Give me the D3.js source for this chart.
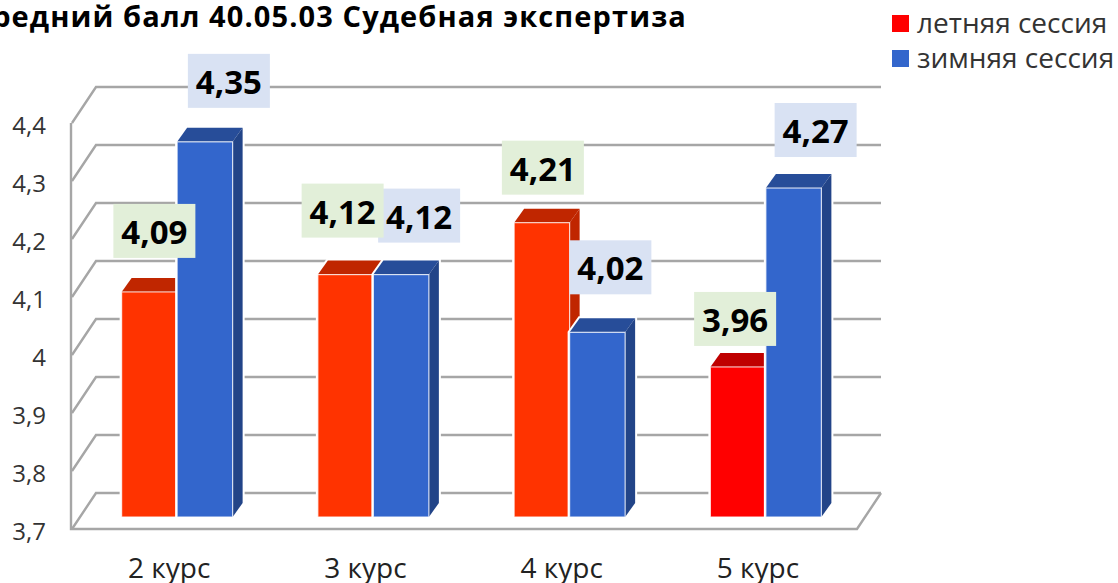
<!DOCTYPE html>
<html>
<head>
<meta charset="utf-8">
<script src="https://cdn.jsdelivr.net/npm/d3@7"></script>
<style>
  html, body { margin: 0; padding: 0; background: #fff; overflow: hidden; }
  text { font-family: "Open Sans", sans-serif; }
</style>
</head>
<body>
<div id="container"></div>
<script>
      //Data
      var courses = ["2 курс", "3 курс", "4 курс", "5 курс"];
      var sessions = ["летняя сессия", "зимняя сессия"];
      var summer = [4.09, 4.12, 4.21, 3.96];
      var winter = [4.35, 4.12, 4.02, 4.27];
      var yTicks = [3.7, 3.8, 3.9, 4, 4.1, 4.2, 4.3, 4.4];

      //Label box centre, moved from the top middle of its bar
      var summerLabelShift = [[5, -61], [-3, -64], [1, -55], [-3, -48]];
      var winterLabelShift = [[24, -61], [18, -59], [13, -65], [22, -58]];

      //Colours
      var summerFront = ["#ff3300", "#ff3300", "#ff3300", "#ff0000"];
      var summerTop = ["#c02600", "#c02600", "#c02600", "#bf0000"];
      var winterFront = "#3366cc", winterTop = "#274d99", winterSide = "#224488";
      var gridColor = "#a6a6a6";

      //Width and height
      var w = 1118;
      var h = 583;

      //3D offsets of the chart box and of the bars
      var wallX = 24, wallY = -36;
      var barDepthX = 10, barDepthY = -14;

      var svg = d3.select("#container")
            .append("svg")
            .attr("width", w)
            .attr("height", h)
            .style("display", "block");

      //Scales
      var yFront = d3.scaleLinear().domain([3.7, 4.4]).range([529, 123]);
      var yBar = d3.scaleLinear().domain([3.7, 4.4]).range([517, 113]);
      var xLabel = d3.scaleBand().domain(courses).range([72, 857]);
      var xBar = d3.scaleBand().domain(courses).range([79, 864]);
      var xSession = d3.scaleBand().domain(sessions).range([0, 111]);

      //Floor and walls
      var grid = svg.append("g")
            .attr("fill", "none")
            .attr("stroke", gridColor)
            .attr("stroke-width", 2.4);

      grid.selectAll(".rung")
        .data(yTicks)
        .enter()
        .append("path")
        .attr("class", "rung")
        .attr("d", function(d) {
          var y = yFront(d);
          return "M72," + y + "L" + (72 + wallX) + "," + (y + wallY) + "H" + (857 + wallX);
        });

      grid.append("path")
        .attr("d", "M71," + yFront(4.4) + "V" + yFront(3.7) + "H857L" + (857 + wallX) + "," + (yFront(3.7) + wallY));

      //One 3D bar
      function drawBar(g, x, value, front, top, side) {
        var w0 = xSession.bandwidth();
        var y0 = yBar(value);
        var y1 = yBar(3.7);
        g.append("path")
          .attr("d", "M" + x + "," + y1 + "V" + y0 + "l" + barDepthX + "," + barDepthY + "h" + w0 + "v" + (y1 - y0) + "l" + (-barDepthX) + "," + (-barDepthY) + "z")
          .attr("fill", "#fff")
          .attr("stroke", "#fff")
          .attr("stroke-width", 4);
        g.append("path")
          .attr("d", "M" + x + "," + y0 + "l" + barDepthX + "," + barDepthY + "h" + w0 + "l" + (-barDepthX) + "," + (-barDepthY) + "z")
          .attr("fill", top);
        g.append("path")
          .attr("d", "M" + (x + w0) + "," + y0 + "l" + barDepthX + "," + barDepthY + "v" + (y1 - y0) + "l" + (-barDepthX) + "," + (-barDepthY) + "z")
          .attr("fill", side);
        g.append("rect")
          .attr("x", x)
          .attr("y", y0)
          .attr("width", w0)
          .attr("height", y1 - y0)
          .attr("fill", front)
          .attr("stroke", "#fff")
          .attr("stroke-opacity", 0.75)
          .attr("stroke-width", 1.2);
      }

      var bars = svg.append("g");
      courses.forEach(function(c, i) {
        var x0 = xBar(c) + (xBar.bandwidth() - xSession.range()[1]) / 2;
        drawBar(bars, x0 + xSession(sessions[0]), summer[i], summerFront[i], summerTop[i], summerTop[i]);
        drawBar(bars, x0 + xSession(sessions[1]), winter[i], winterFront, winterTop, winterSide);
      });

      //Axes
      var yAxis = svg.append("g")
            .attr("transform", "translate(46,3)")
            .call(d3.axisLeft(yFront)
              .tickValues(yTicks)
              .tickSize(0)
              .tickPadding(0)
              .tickFormat(function(d) { return String(d).replace(".", ","); }));
      yAxis.select(".domain").remove();
      yAxis.selectAll("text")
        .style("font-family", "'Open Sans', sans-serif")
        .style("font-size", "24px")
        .attr("fill", "#333");

      var xAxis = svg.append("g")
            .attr("transform", "translate(-1,558)")
            .call(d3.axisBottom(xLabel).tickSize(0).tickPadding(0));
      xAxis.select(".domain").remove();
      xAxis.selectAll("text")
        .style("font-family", "'Open Sans', sans-serif")
        .style("font-size", "28px")
        .attr("fill", "#222");

      //Value labels
      function drawLabels(values, sessionName, shifts, fill) {
        var g = svg.append("g");
        values.forEach(function(v, i) {
          var x0 = xBar(courses[i]) + (xBar.bandwidth() - xSession.range()[1]) / 2;
          var cx = x0 + xSession(sessionName) + xSession.bandwidth() / 2 + shifts[i][0];
          var cy = yBar(v) + shifts[i][1];
          g.append("rect")
            .attr("x", cx - 41)
            .attr("y", cy - 27)
            .attr("width", 82)
            .attr("height", 54)
            .attr("fill", fill);
          g.append("text")
            .attr("x", cx)
            .attr("y", cy + 13)
            .attr("text-anchor", "middle")
            .attr("font-size", 33)
            .attr("font-weight", 700)
            .attr("fill", "#000")
            .text(String(v).replace(".", ","));
        });
      }
      drawLabels(winter, sessions[1], winterLabelShift, "#d9e2f3");
      drawLabels(summer, sessions[0], summerLabelShift, "#e2efd9");

      //Title, its first letter runs off the left edge
      svg.append("text")
        .attr("x", 687)
        .attr("y", 27)
        .attr("text-anchor", "end")
        .attr("font-size", 29)
        .attr("font-weight", 700)
        .attr("letter-spacing", 1.1)
        .attr("fill", "#000")
        .text("Средний балл 40.05.03 Судебная экспертиза");

      //Legend
      var legend = svg.selectAll(".legend")
        .data(sessions)
        .enter()
        .append("g")
        .attr("class", "legend")
        .attr("transform", function(d, i) { return "translate(892," + (15 + i * 35) + ")"; });
      legend.append("rect")
        .attr("width", 17)
        .attr("height", 17)
        .attr("fill", function(d, i) { return i == 0 ? "#ff0000" : winterFront; });
      legend.append("text")
        .attr("x", 25)
        .attr("y", 18)
        .attr("font-size", 28)
        .attr("fill", "#333")
        .text(function(d) { return d; });
</script>
</body>
</html>
